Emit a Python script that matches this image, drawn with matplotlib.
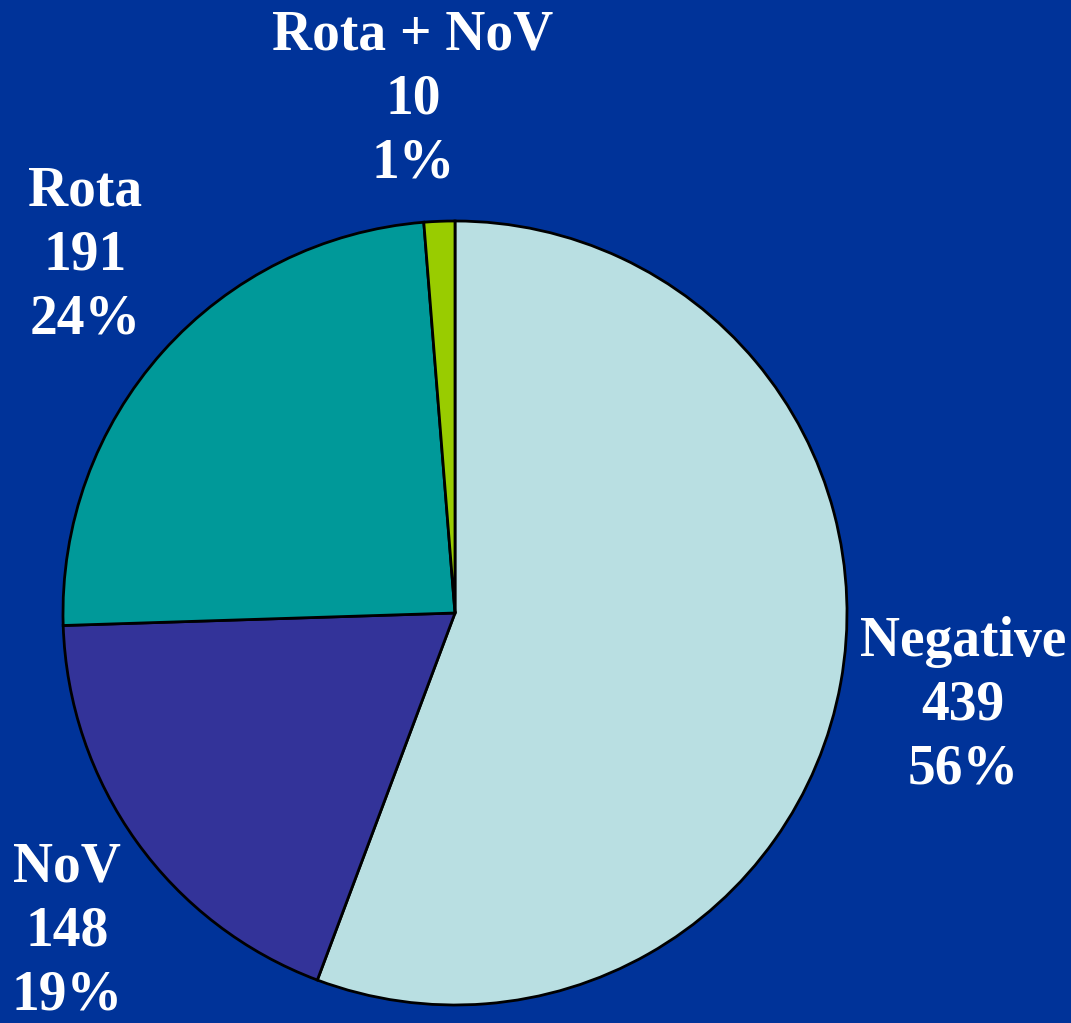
import matplotlib
matplotlib.use('Agg')
from matplotlib import pyplot as plt

# data
names = ['Negative', 'NoV', 'Rota', 'Rota + NoV']
counts = [439, 148, 191, 10]
colors = ['#B9DFE2', '#333399', '#009999', '#99CC00']

bg = '#003399'
W, H = 1071, 1023

fig = plt.figure(figsize=(W / 100, H / 100), dpi=100, facecolor=bg)
ax = fig.add_axes([0, 0, 1, 1])
ax.set_facecolor(bg)

ax.pie(counts, colors=colors, startangle=90, counterclock=False,
       center=(455, H - 613), radius=392, frame=True,
       wedgeprops=dict(edgecolor='black', linewidth=2))
ax.set_xlim(0, W)
ax.set_ylim(0, H)
ax.set_aspect('equal')
ax.axis('off')

total = sum(counts)
# label block centres (middle line), in pixel coords from top-left
label_pos = [(963, 706), (67, 932), (85, 255), (413, 100)]
for name, c, (x, y) in zip(names, counts, label_pos):
    pct = round(100 * c / total)
    ax.text(x, H - y, f'{name}\n{c}\n{pct}%', ha='center', va='center',
            ma='center', color='white', fontsize=40, fontweight='bold',
            family='Liberation Serif', linespacing=1.3)

plt.savefig('out.png', dpi=100, facecolor=bg)
